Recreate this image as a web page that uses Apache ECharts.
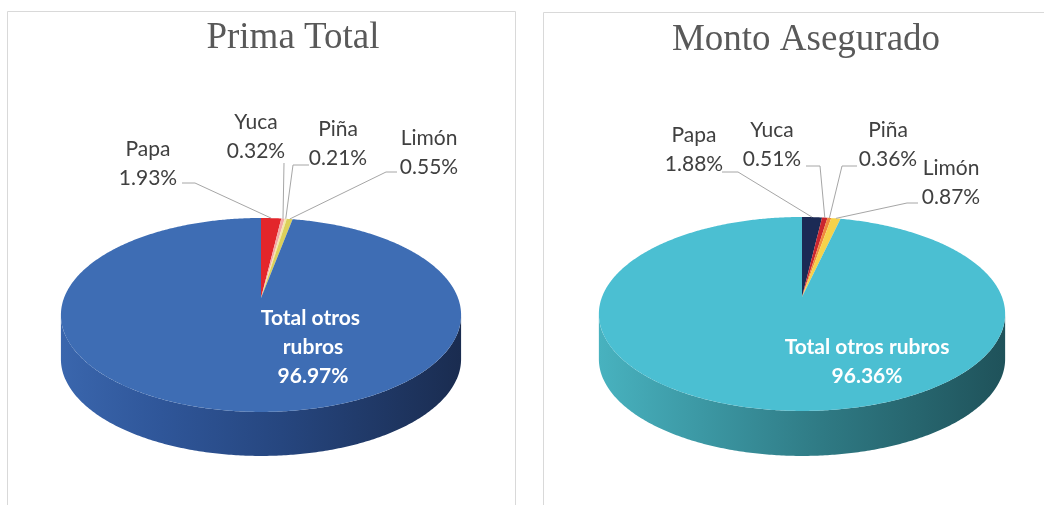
<!DOCTYPE html>
<html>
<head>
<meta charset="utf-8">
<title>Prima Total / Monto Asegurado</title>
<script src="https://cdn.jsdelivr.net/npm/echarts@6/dist/echarts.min.js"></script>
<style>
  html, body { margin: 0; padding: 0; background: #fff; }
  #chart { width: 1044px; height: 505px; }
</style>
</head>
<body>
<div id="chart"></div>
<script>
// datos
var names = ['Papa', 'Yuca', 'Piña', 'Limón', 'Total otros rubros'];
var primaTotal = [1.93, 0.32, 0.21, 0.55, 96.97];
var montoAsegurado = [1.88, 0.51, 0.36, 0.87, 96.36];
var titles = ['Prima Total', 'Monto Asegurado'];

// disposición de cada pastel 3D
var pies = [
  {
    cx: 261, cy: 298, rx: 197, ry: 94, p: 0.175, depth: 44,
    colors: ['#e3262b', '#f2a9a6', '#f5e7ab', '#dcd05a', '#3e6db4'],
    side: ['#3a66ad', '#2f5699', '#26467f', '#1a2c50'],
    title: [293, 38],
    inner: [313, 347], innerWidth: 130,
    labels: [[148, 164], [256, 137], [338, 144], [429, 153]],
    leaders: [[[182, 183], [195, 183]], [[284, 163]], [[309, 165], [293, 165]], [[397, 172], [386, 172]]]
  },
  {
    cx: 802, cy: 297, rx: 200, ry: 94, p: 0.175, depth: 45,
    colors: ['#1b2a55', '#c9262f', '#f08a3c', '#f6d24a', '#4bbfd2'],
    side: ['#48b2bf', '#3c98a4', '#2f7a84', '#1f525a'],
    title: [806, 40],
    inner: [867, 362], innerWidth: 260,
    labels: [[694, 150], [772, 145], [888, 145], [951, 183]],
    leaders: [[[722, 172], [738, 172]], [[806, 166], [820, 166]], [[857, 166], [842, 166]], [[918, 203], [907, 203]]]
  }
];

// proyección en perspectiva de un punto del borde (ángulo desde las 12, sentido horario)
function project (pie, phi, dy) {
  var z = -Math.cos(phi);
  var s = 1 / (1 - pie.p * z);
  return [pie.cx + pie.rx * Math.sin(phi) * s, pie.cy + pie.ry * z * s + (dy || 0)];
}

function arc (pie, a0, a1, dy) {
  var pts = [];
  var n = Math.max(2, Math.ceil((a1 - a0) / 0.01));
  for (var i = 0; i <= n; i++) {
    pts.push(project(pie, a0 + (a1 - a0) * i / n, dy));
  }
  return pts;
}

function makeSeries (idx, values) {
  var pie = pies[idx];
  var total = 0, starts = [];
  for (var k = 0; k < values.length; k++) {
    starts.push(total);
    total += values[k];
  }
  var edge = Math.asin(pie.p);
  var wallFrom = Math.PI / 2 + edge, wallTo = Math.PI * 1.5 - edge;
  var wideX = pie.rx / Math.sqrt(1 - pie.p * pie.p);
  var sideFill = {
    type: 'linear', global: true,
    x: pie.cx - wideX, y: 0, x2: pie.cx + wideX, y2: 0,
    colorStops: [
      { offset: 0, color: pie.side[0] },
      { offset: 0.25, color: pie.side[1] },
      { offset: 0.55, color: pie.side[2] },
      { offset: 1, color: pie.side[3] }
    ]
  };
  return {
    type: 'custom',
    coordinateSystem: 'none',
    silent: true,
    data: values.map(function (v, i) { return { name: names[i], value: [v, i] }; }),
    renderItem: function (params, api) {
      var i = params.dataIndex;
      var v = api.value(0);
      var a0 = starts[i] / total * Math.PI * 2;
      var a1 = a0 + v / total * Math.PI * 2;
      var children = [];

      // pared frontal
      var f0 = Math.max(a0, wallFrom), f1 = Math.min(a1, wallTo);
      if (f1 > f0) {
        var top = arc(pie, f0, f1, 0);
        var bottom = arc(pie, f0, f1, pie.depth).reverse();
        children.push({
          type: 'polygon', z2: 1,
          shape: { points: top.concat(bottom) },
          style: { fill: sideFill }
        });
      }

      // cara superior
      children.push({
        type: 'polygon', z2: 5,
        shape: { points: [[pie.cx, pie.cy]].concat(arc(pie, a0, a1, 0)) },
        style: { fill: pie.colors[i] }
      });

      var text = names[i] + '\n' + v.toFixed(2) + '%';
      if (i < pie.labels.length) {
        var rim = project(pie, (a0 + a1) / 2, 0);
        children.push({
          type: 'polyline', z2: 8,
          shape: { points: pie.leaders[i].concat([rim]) },
          style: { stroke: '#a6a6a6', lineWidth: 1, fill: null }
        });
        children.push({
          type: 'text', z2: 10,
          x: pie.labels[i][0], y: pie.labels[i][1],
          style: {
            text: text, fill: '#404040',
            font: '21px Lato', lineHeight: 29,
            align: 'center', verticalAlign: 'middle'
          }
        });
      } else {
        children.push({
          type: 'text', z2: 10,
          x: pie.inner[0], y: pie.inner[1],
          style: {
            text: text, fill: '#ffffff',
            font: 'bold 21px Lato', lineHeight: 29,
            width: pie.innerWidth, overflow: 'break',
            align: 'center', verticalAlign: 'middle'
          }
        });
      }
      return { type: 'group', children: children };
    }
  };
}

var chart = echarts.init(document.getElementById('chart'), null, { renderer: 'canvas' });
var option = {
  backgroundColor: '#fff',
  animation: false,
  graphic: [
    { type: 'rect', shape: { x: 7.5, y: 11.5, width: 508, height: 520 }, style: { fill: null, stroke: '#d9d9d9', lineWidth: 1 } },
    { type: 'rect', shape: { x: 543.5, y: 12.5, width: 540, height: 520 }, style: { fill: null, stroke: '#d9d9d9', lineWidth: 1 } },
    { type: 'text', x: pies[0].title[0], y: pies[0].title[1], style: { text: titles[0], font: '37px "Liberation Serif"', fill: '#595959', align: 'center', verticalAlign: 'middle' } },
    { type: 'text', x: pies[1].title[0], y: pies[1].title[1], style: { text: titles[1], font: '37px "Liberation Serif"', fill: '#595959', align: 'center', verticalAlign: 'middle' } }
  ],
  series: [
    makeSeries(0, primaTotal),
    makeSeries(1, montoAsegurado)
  ]
};
chart.setOption(option);
</script>
</body>
</html>
